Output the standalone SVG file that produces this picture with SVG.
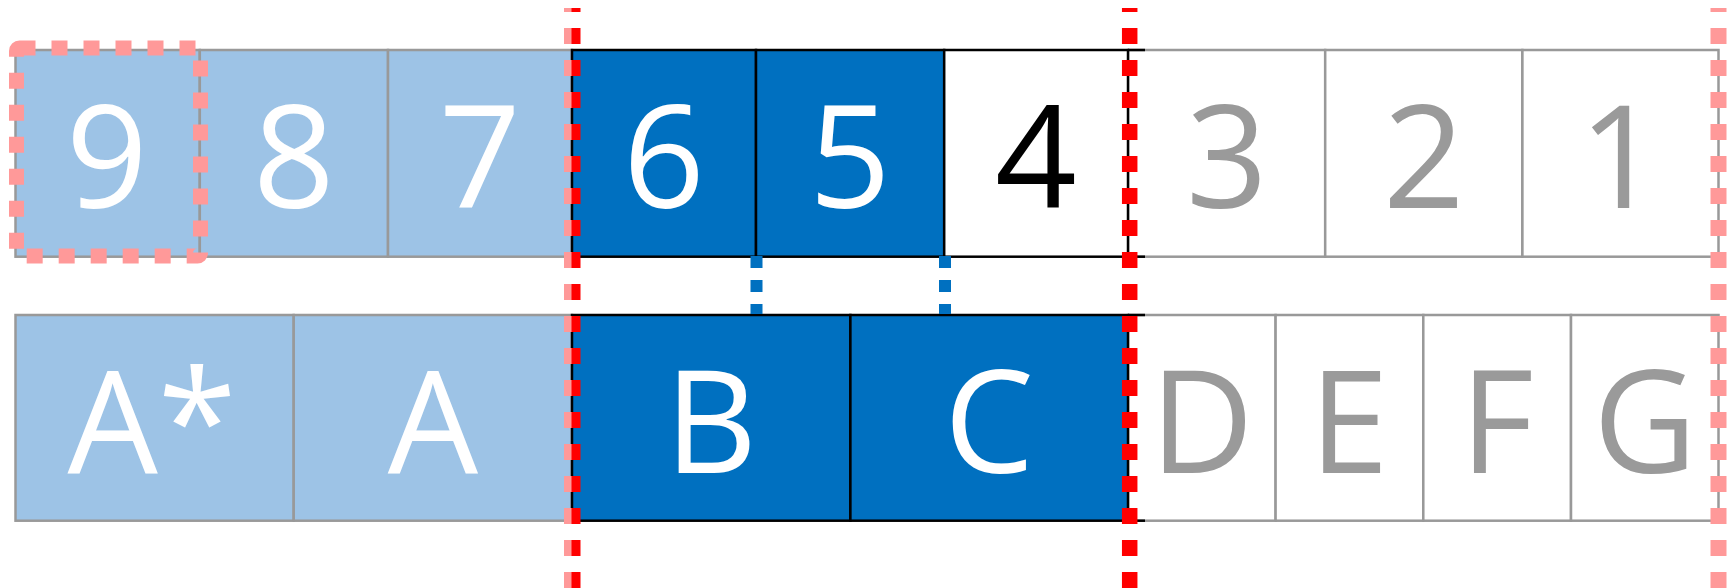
<svg xmlns="http://www.w3.org/2000/svg" width="1735" height="588" viewBox="0 0 1735 588">
<style>
.c{stroke:#999999;stroke-width:2.5}
.lb{fill:#9DC3E6}
.db{fill:#0070C0}
.w{fill:#FFFFFF}
.hl{fill:none;stroke:#000000;stroke-width:2.5}
text{font-family:"Open Sans","Noto Sans","Liberation Sans",sans-serif;font-size:143px;text-anchor:middle}
.tw{fill:#FFFFFF}
.tg{fill:#9A9A9A}
.tk{fill:#000000}
.red{stroke:#FF0000;fill:none;stroke-dasharray:16 16;stroke-dashoffset:12}
.pink{stroke:#FF9999;fill:none;stroke-dasharray:16 16;stroke-dashoffset:12}
.blu{stroke:#0070C0;stroke-width:12;stroke-dasharray:12 12}
</style>
<rect width="1735" height="588" fill="#FFFFFF"/>
<g id="top-row">
<g id="n9"><rect class="c lb" x="15.5" y="50" width="184.3" height="206.7"/><text class="tw" x="107" y="208">9</text></g>
<g id="n8"><rect class="c lb" x="199.8" y="50" width="188.2" height="206.7"/><text class="tw" x="294" y="208">8</text></g>
<g id="n7"><rect class="c lb" x="388" y="50" width="184" height="206.7"/><text class="tw" x="480" y="208">7</text></g>
<g id="n3"><rect class="c w" x="1128" y="50" width="197.2" height="206.7"/><text class="tg" x="1227" y="208">3</text></g>
<g id="n2"><rect class="c w" x="1325.2" y="50" width="197.2" height="206.7"/><text class="tg" x="1424" y="208">2</text></g>
<g id="n1"><rect class="c w" x="1522.4" y="50" width="196.1" height="206.7"/><text class="tg" x="1620" y="208">1</text></g>
<g id="n6"><rect class="db" x="572" y="50" width="184" height="206.7"/><rect class="hl" x="572" y="50" width="184" height="206.7"/><text class="tw" x="664" y="208">6</text></g>
<g id="n5"><rect class="db" x="756" y="50" width="188.2" height="206.7"/><rect class="hl" x="756" y="50" width="188.2" height="206.7"/><text class="tw" x="850" y="208">5</text></g>
<g id="n4"><rect class="w" x="944.2" y="50" width="183.8" height="206.7"/><rect class="hl" x="944.2" y="50" width="183.8" height="206.7"/><text class="tk" x="1036" y="208">4</text></g>
<line x1="1128" y1="50" x2="1145" y2="50" stroke="#000" stroke-width="2.5"/>
<line x1="1128" y1="256.7" x2="1145" y2="256.7" stroke="#000" stroke-width="2.5"/>
</g>
<g id="bottom-row">
<g id="nAstar"><rect class="c lb" x="15.5" y="315" width="278.2" height="205.7"/><text class="tw" x="152" y="473">A*</text></g>
<g id="nA"><rect class="c lb" x="293.7" y="315" width="278.3" height="205.7"/><text class="tw" x="433" y="473">A</text></g>
<g id="nD"><rect class="c w" x="1128" y="315" width="147.6" height="205.7"/><text class="tg" x="1202" y="473">D</text></g>
<g id="nE"><rect class="c w" x="1275.6" y="315" width="147.7" height="205.7"/><text class="tg" x="1349" y="473">E</text></g>
<g id="nF"><rect class="c w" x="1423.3" y="315" width="147.7" height="205.7"/><text class="tg" x="1497" y="473">F</text></g>
<g id="nG"><rect class="c w" x="1571" y="315" width="147.5" height="205.7"/><text class="tg" x="1645" y="473">G</text></g>
<g id="nB"><rect class="db" x="572" y="315" width="278.4" height="205.7"/><rect class="hl" x="572" y="315" width="278.4" height="205.7"/><text class="tw" x="711" y="473">B</text></g>
<g id="nC"><rect class="db" x="850.4" y="315" width="277.6" height="205.7"/><rect class="hl" x="850.4" y="315" width="277.6" height="205.7"/><text class="tw" x="989" y="473">C</text></g>
<line x1="1128" y1="315" x2="1145" y2="315" stroke="#000" stroke-width="2.5"/>
<line x1="1128" y1="520.7" x2="1145" y2="520.7" stroke="#000" stroke-width="2.5"/>
</g>
<g id="connectors">
<line class="blu" x1="756.5" y1="256" x2="756.5" y2="314"/>
<line class="blu" x1="945" y1="256" x2="945" y2="314"/>
</g>
<g id="markers">
<rect x="16.5" y="48" width="184" height="208" rx="3" fill="none" stroke="#FF9999" stroke-width="15" stroke-dasharray="16 16"/>
<line class="pink" x1="572" y1="8" x2="572" y2="588" stroke-width="16"/>
<line class="red" x1="576" y1="8" x2="576" y2="588" stroke-width="9"/>
<line class="red" x1="1129.7" y1="8" x2="1129.7" y2="588" stroke-width="15.5"/>
<line class="pink" x1="1718.5" y1="8" x2="1718.5" y2="588" stroke-width="16"/>
</g>
</svg>
